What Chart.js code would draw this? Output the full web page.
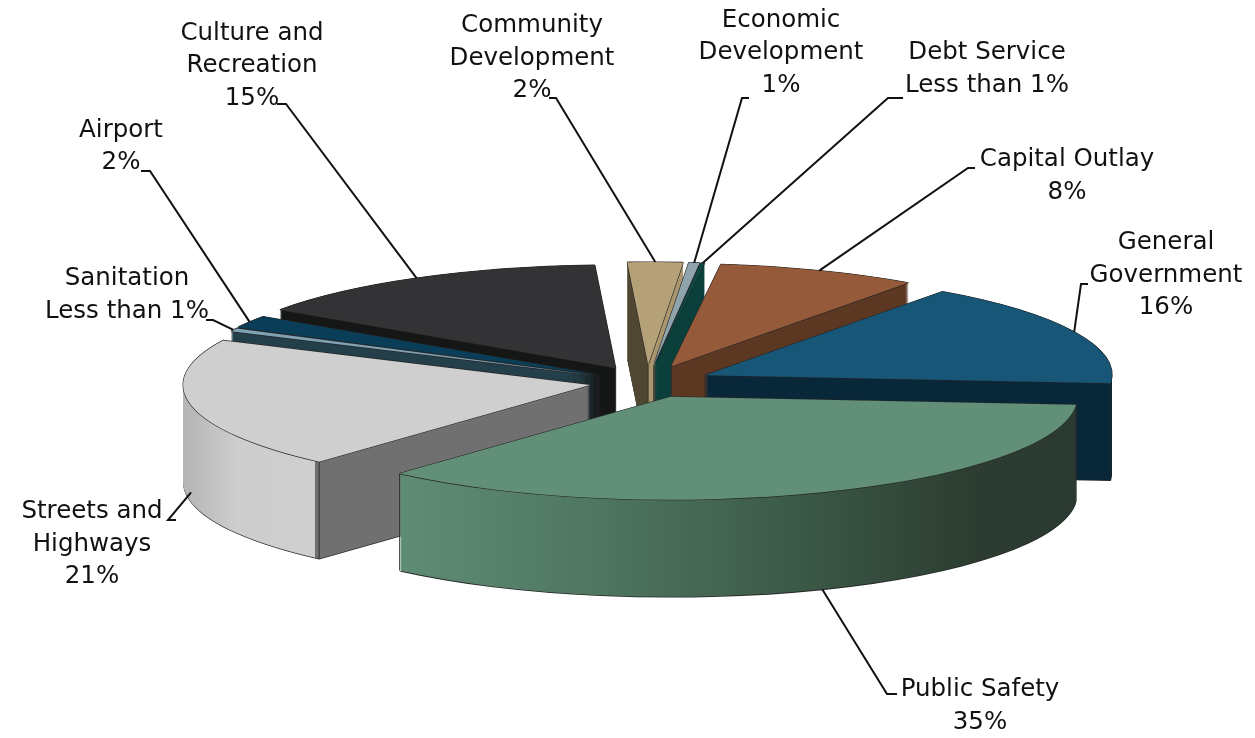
<!DOCTYPE html>
<html>
<head>
<meta charset="utf-8">
<title>Expenditures by function</title>
<script src="https://cdn.jsdelivr.net/npm/chart.js@4"></script>
<style>
  html, body { margin: 0; padding: 0; background: #fff; }
  #wrap { width: 1255px; height: 738px; }
</style>
</head>
<body>
<div id="wrap"><canvas id="pie" width="1255" height="738"></canvas></div>
<script>
// data, clockwise from General Government
var categories = ['General Government', 'Public Safety', 'Streets and Highways', 'Sanitation', 'Airport',
                  'Culture and Recreation', 'Community Development', 'Economic Development', 'Debt Service', 'Capital Outlay'];
var values     = [16.4, 35.5, 20.6, 0.5, 1.95, 14.7, 2.2, 0.43, 0.15, 8.0];
var labelLines = [
    ['General', 'Government', '16%'],
    ['Public Safety', '35%'],
    ['Streets and', 'Highways', '21%'],
    ['Sanitation', 'Less than 1%'],
    ['Airport', '2%'],
    ['Culture and', 'Recreation', '15%'],
    ['Community', 'Development', '2%'],
    ['Economic', 'Development', '1%'],
    ['Debt Service', 'Less than 1%'],
    ['Capital Outlay', '8%']
];

// colours: top face, then the side walls as stops across x (relative to the slice apex, in radii)
var topColors = ['#175676', '#618f78', '#cfcfcf', '#7fa3b5', '#0a3d58', '#333335', '#b5a178', '#8fa3ad', '#0c4a47', '#955a39'];
var wallStops = [
    [[-1, '#082739'], [1, '#082739']],
    [[-0.67, '#5f8c74'], [-0.2, '#4f7762'], [0.3, '#3c5a48'], [0.75, '#2c3c31'], [1, '#2b3a30']],
    [[-1, '#b4b4b4'], [-0.87, '#cdcdcd'], [-0.675, '#cfcfcf'], [-0.675, '#707070'], [0.2, '#707070']],
    [[-1, '#233f4a'], [1, '#233f4a']],
    [[-1, '#233f4a'], [1, '#233f4a']],
    [[-1, '#151716'], [1, '#151716']],
    [[-0.5, '#4f4732'], [0, '#4f4732'], [0, '#a9966f'], [0.5, '#a9966f']],
    [[-1, '#0a3f3c'], [1, '#0a3f3c']],
    [[-1, '#0a3f3c'], [1, '#0a3f3c']],
    [[-1, '#5c3823'], [1, '#5c3823']]
];

// pie placement on the page
var PIE = { cx: 647, cy: 382, radius: 407, squash: 0.253, depth: 97, rotation: 35.7 };
var explode = [64, 63, 58, 55, 56, 64, 67, 67, 67, 66];

// label placement: text centre x, centre y of each line, leader elbow points, how far down the rim the leader lands
var labelLayout = [
    { x: 1166, y: [243, 276, 308], leader: [[1088, 284], [1081, 284]], wall: 0 },
    { x: 980,  y: [690, 723],      leader: [[897, 694], [887, 694]],   wall: 1 },
    { x: 92,   y: [512, 545, 577], leader: [[176, 520], [168, 520]],   wall: 0.9 },
    { x: 127,  y: [279, 312],      leader: [[206, 320], [213, 320]],   wall: 0 },
    { x: 121,  y: [131, 163],      leader: [[141, 171], [150, 171]],   wall: 0 },
    { x: 252,  y: [34, 66, 99],    leader: [[277, 104], [286, 104]],   wall: 0 },
    { x: 532,  y: [26, 59, 91],    leader: [[549, 98], [556, 98]],     wall: 0 },
    { x: 781,  y: [21, 53, 86],    leader: [[749, 98], [742, 98]],     wall: 0 },
    { x: 987,  y: [53, 86],        leader: [[903, 98], [888, 98]],     wall: 0 },
    { x: 1067, y: [160, 193],      leader: [[975, 168], [968, 168]],   wall: 0 }
];

function ghost(arc, color) {
    var g = Object.create(arc);
    g.options = Object.assign({}, arc.options, { backgroundColor: color, borderWidth: 0, offset: 0, spacing: 0 });
    return g;
}

function midAngle(arc) { return (arc.startAngle + arc.endAngle) / 2; }

// where the slice apex lands on the page once exploded
function apex(arc, i) {
    var m = midAngle(arc);
    return {
        x: PIE.cx + Math.cos(m) * explode[i],
        y: PIE.cy + Math.sin(m) * explode[i] * PIE.squash
    };
}

function rim(arc, i, angle) {
    var a = apex(arc, i);
    return {
        x: a.x + Math.cos(angle) * arc.outerRadius,
        y: a.y + Math.sin(angle) * arc.outerRadius * PIE.squash
    };
}

function paint(ctx, arc, i, g, dx, dy) {
    var a = apex(arc, i);
    ctx.save();
    ctx.translate(a.x + dx, a.y + dy);
    ctx.scale(1, PIE.squash);
    ctx.translate(-arc.x, -arc.y);
    g.draw(ctx);
    ctx.restore();
}

function xGradient(ctx, arc, stops) {
    var x0 = stops[0][0], x1 = stops[stops.length - 1][0];
    var grad = ctx.createLinearGradient(arc.x + x0 * arc.outerRadius, 0, arc.x + x1 * arc.outerRadius, 0);
    stops.forEach(function(s) { grad.addColorStop((s[0] - x0) / (x1 - x0), s[1]); });
    return grad;
}

function drawSlice(ctx, arc, i) {
    var d, edge = '#262626';
    var line = ghost(arc, edge);

    paint(ctx, arc, i, line, 0, PIE.depth + 0.8);

    // side walls
    var wall = ghost(arc, xGradient(ctx, arc, wallStops[i]));
    for (d = PIE.depth; d > 0; d -= 1) paint(ctx, arc, i, wall, 0, d);

    // vertical edges, only the ones that face the viewer
    var corners = [apex(arc, i)];
    [arc.startAngle, arc.endAngle].forEach(function(angle) {
        if (Math.sin(angle) > -0.05) corners.push(rim(arc, i, angle));
    });
    corners.forEach(function(p) {
        ctx.beginPath();
        ctx.moveTo(p.x, p.y);
        ctx.lineTo(p.x, p.y + PIE.depth);
        ctx.lineWidth = 0.8;
        ctx.strokeStyle = edge;
        ctx.stroke();
    });

    // top face with a thin outline
    paint(ctx, arc, i, line, -0.6, 0);
    paint(ctx, arc, i, line, 0.6, 0);
    paint(ctx, arc, i, line, 0, -0.6);
    paint(ctx, arc, i, line, 0, 0.6);
    paint(ctx, arc, i, ghost(arc, topColors[i]), 0, 0);
}

function drawLabels(ctx, arcs) {
    ctx.save();
    ctx.fillStyle = '#111';
    ctx.font = '24.5px "DejaVu Sans"';
    ctx.textAlign = 'center';
    ctx.textBaseline = 'middle';
    labelLines.forEach(function(lines, i) {
        var lay = labelLayout[i];
        lines.forEach(function(t, n) { ctx.fillText(t, lay.x, lay.y[n]); });

        var end = rim(arcs[i], i, midAngle(arcs[i]));
        ctx.beginPath();
        ctx.moveTo(lay.leader[0][0], lay.leader[0][1]);
        ctx.lineTo(lay.leader[1][0], lay.leader[1][1]);
        ctx.lineTo(end.x, end.y + lay.wall * PIE.depth);
        ctx.lineWidth = 2;
        ctx.strokeStyle = '#111';
        ctx.stroke();
    });
    ctx.restore();
}

var pie3d = {
    id: 'pie3d',
    beforeDatasetsDraw: function(chart) {
        var ctx = chart.ctx;
        var arcs = chart.getDatasetMeta(0).data;
        // back to front
        var order = arcs.map(function(a, i) { return i; }).sort(function(p, q) {
            return Math.sin(midAngle(arcs[p])) - Math.sin(midAngle(arcs[q]));
        });
        order.forEach(function(i) { drawSlice(ctx, arcs[i], i); });
        drawLabels(ctx, arcs);
        return false;
    }
};

new Chart(document.getElementById('pie'), {
    type: 'pie',
    data: {
        labels: categories,
        datasets: [{ data: values, backgroundColor: topColors, borderWidth: 0 }]
    },
    options: {
        responsive: false,
        animation: false,
        radius: PIE.radius,
        rotation: PIE.rotation,
        layout: { padding: 0 },
        plugins: { legend: { display: false }, tooltip: { enabled: false } }
    },
    plugins: [pie3d]
});
</script>
</body>
</html>
